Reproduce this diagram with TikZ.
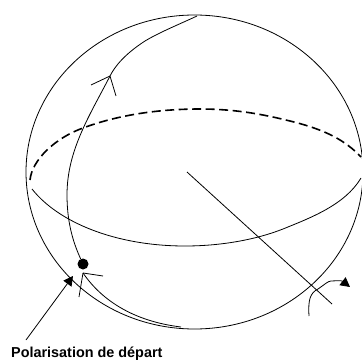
\documentclass[tikz,border=0pt]{standalone}
\usepackage{fontspec}
\setmainfont{Liberation Sans}
\usetikzlibrary{positioning, arrows.meta}

\begin{document}
\begin{tikzpicture}[
    x=1pt, y=-1pt,
    curve/.style={line width=0.8pt, black},
    arrow/.style={-{Triangle[length=9.5pt, width=10pt]}, line width=0.8pt, black},
    equator/.style={line width=1.6pt, dash pattern=on 9pt off 4.5pt, black},
    label/.style={font=\bfseries\fontsize{14.4}{16}\selectfont, inner sep=0pt, anchor=west}
  ]
  \useasboundingbox (0,0) rectangle (361,363);
  \coordinate (top)  at (197,16);
  \coordinate (low)  at (181,327);
  \coordinate (tail) at (26,340);
  \node[circle, fill=black, minimum size=11pt, inner sep=0pt] (dot) at (83,264) {};
  \node[label] (depart) at (11,354) {Polarisation de départ};
  \draw[curve] (194.5,172) ellipse [x radius=168.5, y radius=157];
  % equateur
  \draw[curve] (32,189) .. controls (58,222) and (115,246) .. (185,246)
    .. controls (220,246) and (255,240) .. (283,229)
    .. controls (310,218) and (345,205) .. (361,178);
  \draw[equator] (30,180) .. controls (32,160) and (55,138) .. (83,128)
    .. controls (115,116) and (155,109) .. (200,109)
    .. controls (240,109) and (270,116) .. (294,122)
    .. controls (325,130) and (345,140) .. (361,157);
  % meridien
  \draw[curve] (top) .. controls (180,24) and (160,32) .. (145,41)
    .. controls (125,54) and (115,66) .. (110,76)
    .. controls (90,115) and (67,150) .. (67,195)
    .. controls (67,220) and (72,240) .. (dot);
  \draw[curve] (110,76) -- (91,85) (110,76) -- (116,96);
  \coordinate (tip) at (83,273);
  \draw[curve] (tip) .. controls (105,305) and (140,322) .. (low);
  \draw[curve] (tip) -- (103,276) (tip) -- (79,297);
  % axe
  \coordinate (centre) at (187,172);
  \coordinate (axisend) at (332,304);
  \draw[curve] (centre) -- (axisend);
  % rotation
  \coordinate (start) at (309,316);
  \coordinate (head) at (350,287);
  \draw[arrow] (start) .. controls (308,300) and (310,293) .. (318,289)
    .. controls (324,285) and (328,281) .. (331,281)
    .. controls (335,281) and (341,280) .. (head);
  % polarisation
  \draw[arrow] (tail) -- (73,276);
\end{tikzpicture}
\end{document}
